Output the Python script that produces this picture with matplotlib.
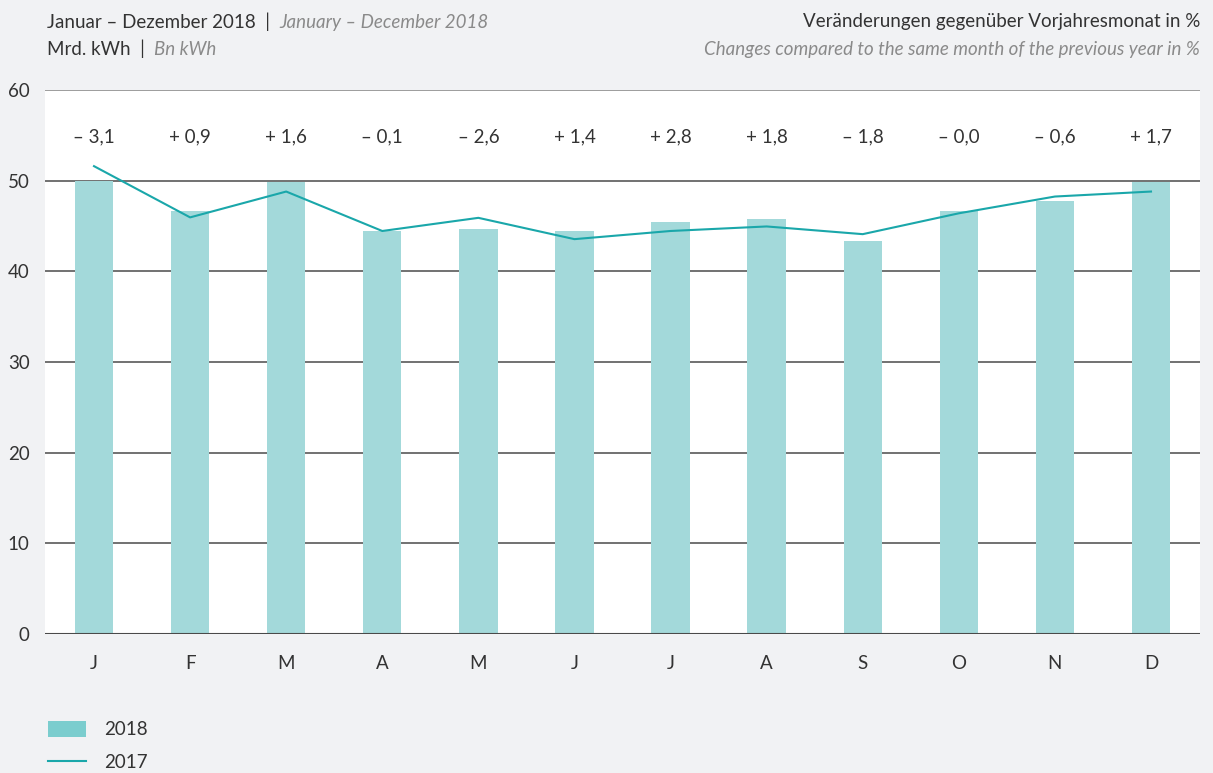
# monthly electricity figures 2018 vs 2017, bars + line

import numpy as np
import matplotlib.pyplot as plt
from matplotlib.patches import Patch
from matplotlib.lines import Line2D

months = ["J", "F", "M", "A", "M", "J", "J", "A", "S", "O", "N", "D"]
values_2018 = [50.0, 46.65, 49.9, 44.45, 44.65, 44.45, 45.4, 45.75, 43.35, 46.65, 47.75, 49.9]
values_2017 = [51.6, 45.95, 48.8, 44.45, 45.9, 43.55, 44.45, 44.95, 44.1, 46.4, 48.25, 48.8]
changes = ["– 3,1", "+ 0,9", "+ 1,6", "– 0,1", "– 2,6", "+ 1,4",
           "+ 2,8", "+ 1,8", "– 1,8", "– 0,0", "– 0,6", "+ 1,7"]
yticks = [0, 10, 20, 30, 40, 50, 60]

bg = "#f1f2f4"
dark = "#333333"
grey = "#8a8a8a"
bar_col = "#a3d9da"
leg_bar = "#7bcdce"
line_col = "#1aa7aa"
fs = 13.5

plt.rcParams['font.family'] = ['Lato', 'DejaVu Sans']

fig = plt.figure(figsize=(12.13, 7.73), dpi=100, facecolor=bg)
ax = fig.add_axes([45/1213, 139/773, 1155/1213, 544/773])
ax.set_facecolor("white")

x = np.arange(len(months))
ax.bar(x, values_2018, width=0.4, color=bar_col, zorder=2)
ax.plot(x, values_2017, color=line_col, lw=1.5, zorder=3)

for yv in yticks[1:-1]:
    ax.axhline(yv, color="#4a4a4a", lw=1.1, zorder=1)
ax.axhline(60, color="#8c8c8c", lw=1.2, zorder=1)
ax.axhline(0, color="#4a4a4a", lw=1.5, zorder=4)

for xi, c in zip(x, changes):
    ax.text(xi, 54.8, c, ha="center", va="center", fontsize=fs, color=dark)

ax.set_xlim(-0.51, 11.51)
ax.set_ylim(0, 60)
ax.set_yticks(yticks)
ax.set_xticks(x)
ax.set_xticklabels(months)
ax.tick_params(axis="both", length=0, labelsize=fs, labelcolor=dark)
ax.tick_params(axis="x", pad=15)
ax.tick_params(axis="y", pad=11)
for s in ax.spines.values():
    s.set_visible(False)

# header texts
t1 = fig.text(47/1213, 1 - 22/773, "Januar – Dezember 2018  |  ", fontsize=fs,
              color=dark, va="center", ha="left")
fig.canvas.draw()
ax.annotate("January – December 2018", xy=(1, 0), xycoords=t1, va="bottom",
            ha="left", fontsize=fs, color=grey, style="italic", annotation_clip=False)
t2 = fig.text(47/1213, 1 - 49/773, "Mrd. kWh  |  ", fontsize=fs,
              color=dark, va="center", ha="left")
ax.annotate("Bn kWh", xy=(1, 0), xycoords=t2, va="bottom",
            ha="left", fontsize=fs, color=grey, style="italic", annotation_clip=False)
fig.text(1200/1213, 1 - 22/773, "Veränderungen gegenüber Vorjahresmonat in %",
         fontsize=fs, color=dark, va="center", ha="right")
fig.text(1200/1213, 1 - 49/773, "Changes compared to the same month of the previous year in %",
         fontsize=fs, color=grey, va="center", ha="right", style="italic")

# legend
handles = [Patch(facecolor=leg_bar, edgecolor="none"),
           Line2D([0], [0], color=line_col, lw=1.5)]
fig.legend(handles, ["2018", "2017"], loc="upper left",
           bbox_to_anchor=(48/1213, 1 - 721/773), frameon=False,
           borderpad=0, borderaxespad=0,
           fontsize=fs, labelcolor=dark, handlelength=2.0, handleheight=0.9,
           handletextpad=1.0, labelspacing=0.85)

fig.savefig("out.png", dpi=100, facecolor=bg)
